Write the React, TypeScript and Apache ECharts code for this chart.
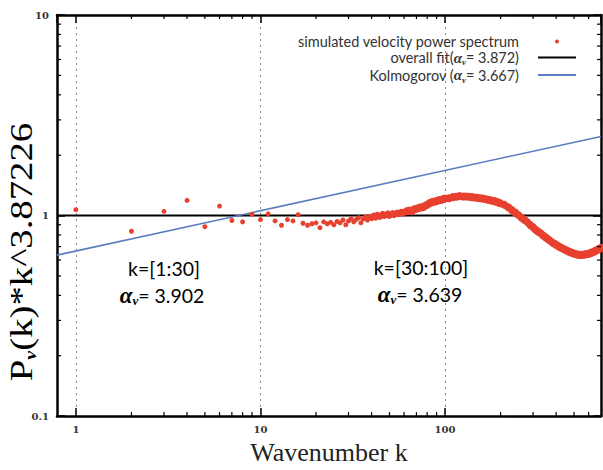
import React, { useEffect, useRef } from 'react';
import * as echarts from 'echarts';

// ---- data ----
const sparseK = [1, 2, 3, 4, 5, 6, 7, 8, 9, 10, 11, 12, 13, 14, 15, 16, 17, 18, 19, 20,
  21, 22, 23, 24, 25, 26, 27, 28, 29, 30, 31, 32, 33, 34, 35, 36, 37, 38, 39, 40,
  41, 42, 43, 44, 45, 46, 47, 48, 49, 50, 51, 52, 53, 54, 55, 56, 57, 58, 59, 60];
const sparseP = [1.07, 0.835, 1.05, 1.19, 0.88, 1.115, 0.945, 0.93, 1.015, 0.955,
  1.02, 0.94, 0.895, 0.955, 0.94, 1.01, 0.915, 0.895, 0.91, 0.92,
  0.87, 0.93, 0.91, 0.925, 0.9, 0.935, 0.92, 0.95, 0.9, 0.94,
  0.965, 0.93, 0.955, 0.975, 0.92, 0.96, 0.985, 0.95, 0.99, 0.965,
  1.0, 0.975, 1.01, 0.985, 0.99, 1.02, 0.995, 1.005, 1.025, 0.995,
  1.01, 1.03, 1.005, 1.02, 1.035, 1.015, 1.03, 1.045, 1.02, 1.04];
const denseK = [62, 64, 66, 68, 70, 72, 74, 76, 78, 80, 82, 84, 86, 88, 90, 92, 94, 96, 98, 100,
  105, 110, 115, 120, 125, 130, 135, 140, 145, 150, 155, 160, 165, 170, 175, 180, 185, 190, 195, 200,
  210, 220, 230, 240, 250, 260, 270, 280, 290, 300, 310, 320, 330, 340, 350, 360, 370, 380, 390, 400,
  410, 420, 430, 440, 450, 460, 470, 480, 490, 500, 510, 520, 530, 540, 550, 560, 570, 580, 590, 600,
  610, 620, 630, 640, 650, 660, 670, 680, 690, 700];
const denseP = [1.05, 1.06, 1.05, 1.075, 1.08, 1.09, 1.1, 1.1, 1.12, 1.13, 1.15, 1.16, 1.17, 1.175, 1.18, 1.19, 1.195, 1.2, 1.21, 1.215,
  1.22, 1.235, 1.24, 1.25, 1.245, 1.245, 1.24, 1.235, 1.23, 1.225, 1.22, 1.215, 1.21, 1.2, 1.195, 1.185, 1.18, 1.17, 1.16, 1.15,
  1.13, 1.1, 1.065, 1.035, 1.005, 0.975, 0.95, 0.925, 0.895, 0.875, 0.85, 0.83, 0.815, 0.795, 0.78, 0.765, 0.75, 0.735, 0.725, 0.715,
  0.705, 0.695, 0.688, 0.68, 0.673, 0.667, 0.66, 0.655, 0.65, 0.646, 0.643, 0.64, 0.638, 0.637, 0.637, 0.638, 0.64, 0.641, 0.643, 0.645,
  0.648, 0.652, 0.656, 0.66, 0.665, 0.67, 0.675, 0.68, 0.684, 0.69];
const fitK = [0.79, 700];
const fitP = [1, 1];
const kolK = [0.79, 700];
const kolP = [0.635, 2.48];
const xMinorTicks = [2, 3, 4, 5, 6, 7, 8, 9, 20, 30, 40, 50, 60, 70, 80, 90, 200, 300, 400, 500, 600];
const yMinorTicks = [0.2, 0.3, 0.4, 0.5, 0.6, 0.7, 0.8, 0.9, 2, 3, 4, 5, 6, 7, 8, 9];
const seriesNames = ['simulated velocity power spectrum', 'overall fit(αv = 3.872)', 'Kolmogorov (αv = 3.667)'];
const legendLabels = [
  '{t|simulated velocity power spectrum}',
  '{t|overall fit(}{a|α}{s|v}{t|= 3.872)}',
  '{t|Kolmogorov (}{a|α}{s|v}{t|= 3.667)}',
];
const annotations = [
  { line1: 'k=[1:30]', alpha: '= 3.902' },
  { line1: 'k=[30:100]', alpha: '= 3.639' },
];

const X_MIN = 0.79, X_MAX = 700, Y_MIN = 0.1, Y_MAX = 10;
const RED = '#e8402f';
const BLUE = '#5b7cc0';

export default function App() {
  const ref = useRef<HTMLDivElement>(null);
  useEffect(() => {
    if (!ref.current) return;
    const chart = echarts.init(ref.current, undefined, { renderer: 'svg' });
    const scatterData = [
      ...sparseK.map((k, i) => [k, sparseP[i]]),
      ...denseK.map((k, i) => [k, denseP[i]]),
    ];
    const axisLineStyle = { color: '#000', width: 2.5 };
    const tickStyle = { inside: true, length: 8, lineStyle: { color: '#000', width: 1.5 } };
    const labelStyle = { fontFamily: 'DejaVu Serif', fontWeight: 'bold' as const, fontSize: 10, color: '#333' };
    const annRich = {
      t: { fontFamily: 'Lato', fontSize: 19.5, color: '#333', lineHeight: 24 },
      a: { fontFamily: 'Liberation Serif', fontStyle: 'italic', fontWeight: 'bold', fontSize: 23, color: '#333', lineHeight: 24 },
      s: { fontFamily: 'Liberation Serif', fontStyle: 'italic', fontWeight: 'bold', fontSize: 13, color: '#333', lineHeight: 12, verticalAlign: 'bottom' },
    };
    const hiddenDot = { color: 'rgba(0,0,0,0)', borderWidth: 0, opacity: 0 };
    const option: any = {
      animation: false,
      backgroundColor: '#fff',
      grid: { left: 57, right: 2, top: 15, bottom: 40, containLabel: false },
      legend: {
        data: [
          { name: seriesNames[0], icon: 'circle' },
          { name: seriesNames[1], itemStyle: hiddenDot, lineStyle: { color: '#000', width: 2 } },
          { name: seriesNames[2], itemStyle: hiddenDot, lineStyle: { color: BLUE, width: 2 } },
        ],
        orient: 'vertical',
        right: 26,
        top: 34,
        padding: 0,
        align: 'right',
        itemWidth: 38,
        itemHeight: 4,
        itemGap: 1,
        formatter: (name: string) => legendLabels[seriesNames.indexOf(name)],
        textStyle: {
          padding: [0, 14, 0, 0],
          rich: {
            t: { fontFamily: 'Lato', fontSize: 14.5, color: '#333', lineHeight: 18 },
            a: { fontFamily: 'Liberation Serif', fontStyle: 'italic', fontWeight: 'bold', fontSize: 15, color: '#333', lineHeight: 18 },
            s: { fontFamily: 'Liberation Serif', fontStyle: 'italic', fontWeight: 'bold', fontSize: 9, color: '#333', lineHeight: 9, verticalAlign: 'bottom' },
          },
        },
      },
      xAxis: [
        {
          type: 'log', logBase: 10, min: X_MIN, max: X_MAX, position: 'bottom',
          name: 'Wavenumber k', nameLocation: 'middle', nameGap: 22,
          nameTextStyle: { fontFamily: 'Liberation Serif', fontSize: 26, color: '#222' },
          axisLine: { onZero: false, lineStyle: axisLineStyle },
          axisTick: tickStyle,
          axisLabel: { ...labelStyle, showMinLabel: false, showMaxLabel: false, margin: 8 },
          splitLine: { show: true, lineStyle: { color: '#888', type: [2, 4], width: 1 } },
        },
        {
          type: 'log', logBase: 10, min: X_MIN, max: X_MAX, position: 'top',
          axisLine: { onZero: false, lineStyle: axisLineStyle },
          axisTick: tickStyle,
          axisLabel: { show: false },
          splitLine: { show: false },
        },
      ],
      yAxis: [
        {
          type: 'log', logBase: 10, min: Y_MIN, max: Y_MAX, position: 'left',
          axisLine: { onZero: false, lineStyle: axisLineStyle },
          axisTick: tickStyle,
          axisLabel: { ...labelStyle, margin: 8 },
          splitLine: { show: false },
        },
        {
          type: 'log', logBase: 10, min: Y_MIN, max: Y_MAX, position: 'right',
          axisLine: { onZero: false, lineStyle: axisLineStyle },
          axisTick: tickStyle,
          axisLabel: { show: false },
          splitLine: { show: false },
        },
      ],
      series: [
        {
          name: seriesNames[1], type: 'line', symbol: 'none', z: 3,
          data: fitK.map((k, i) => [k, fitP[i]]),
          lineStyle: { color: '#000', width: 2 }, itemStyle: { color: '#000' },
        },
        {
          name: seriesNames[2], type: 'line', symbol: 'none', z: 3,
          data: kolK.map((k, i) => [k, kolP[i]]),
          lineStyle: { color: BLUE, width: 1.6 }, itemStyle: { color: BLUE },
        },
        {
          name: seriesNames[0], type: 'scatter', z: 4,
          data: scatterData,
          symbol: 'circle',
          symbolSize: (v: number[]) => (v[0] > 60 ? 8 : v[0] > 40 ? 6 : 5),
          itemStyle: { color: RED, opacity: 1 },
        },
        {
          type: 'custom', silent: true, z: 5,
          data: xMinorTicks.map((k) => [k, 1]),
          renderItem: (_p: any, api: any) => {
            const k = api.value(0);
            const b = api.coord([k, Y_MIN]);
            const t = api.coord([k, Y_MAX]);
            return {
              type: 'group', children: [
                { type: 'line', shape: { x1: b[0], y1: b[1], x2: b[0], y2: b[1] - 4 }, style: { stroke: '#000', lineWidth: 1.2 } },
                { type: 'line', shape: { x1: t[0], y1: t[1], x2: t[0], y2: t[1] + 4 }, style: { stroke: '#000', lineWidth: 1.2 } },
              ],
            };
          },
        },
        {
          type: 'custom', silent: true, z: 5,
          data: yMinorTicks.map((v) => [1, v]),
          renderItem: (_p: any, api: any) => {
            const v = api.value(1);
            const l = api.coord([X_MIN, v]);
            const r = api.coord([X_MAX, v]);
            return {
              type: 'group', children: [
                { type: 'line', shape: { x1: l[0], y1: l[1], x2: l[0] + 4, y2: l[1] }, style: { stroke: '#000', lineWidth: 1.2 } },
                { type: 'line', shape: { x1: r[0], y1: r[1], x2: r[0] - 4, y2: r[1] }, style: { stroke: '#000', lineWidth: 1.2 } },
              ],
            };
          },
        },
      ],
      graphic: [
        {
          type: 'text', x: 22, y: 252, rotation: Math.PI / 2, scaleX: 1.25,
          style: {
            text: '{p|P}{s|v}{p|(k)*k^3.87226}',
            align: 'center', verticalAlign: 'middle',
            rich: {
              p: { fontFamily: 'Liberation Serif', fontSize: 31, color: '#222', lineHeight: 34 },
              s: { fontFamily: 'Liberation Serif', fontStyle: 'italic', fontWeight: 'bold', fontSize: 16, color: '#222', lineHeight: 16, verticalAlign: 'bottom' },
            },
          },
        },
        {
          type: 'text', x: 164, y: 268,
          style: { text: `{t|${annotations[0].line1}}`, align: 'center', verticalAlign: 'middle', rich: annRich },
        },
        {
          type: 'text', x: 162, y: 295,
          style: { text: `{a|α}{s|v}{t|${annotations[0].alpha}}`, align: 'center', verticalAlign: 'middle', rich: annRich },
        },
        {
          type: 'text', x: 421, y: 267,
          style: { text: `{t|${annotations[1].line1}}`, align: 'center', verticalAlign: 'middle', rich: annRich },
        },
        {
          type: 'text', x: 420, y: 294,
          style: { text: `{a|α}{s|v}{t|${annotations[1].alpha}}`, align: 'center', verticalAlign: 'middle', rich: annRich },
        },
      ],
    };
    chart.setOption(option);
    return () => chart.dispose();
  }, []);
  return <div ref={ref} style={{ width: 603, height: 470, position: 'absolute', left: 0, top: 0 }} />;
}
